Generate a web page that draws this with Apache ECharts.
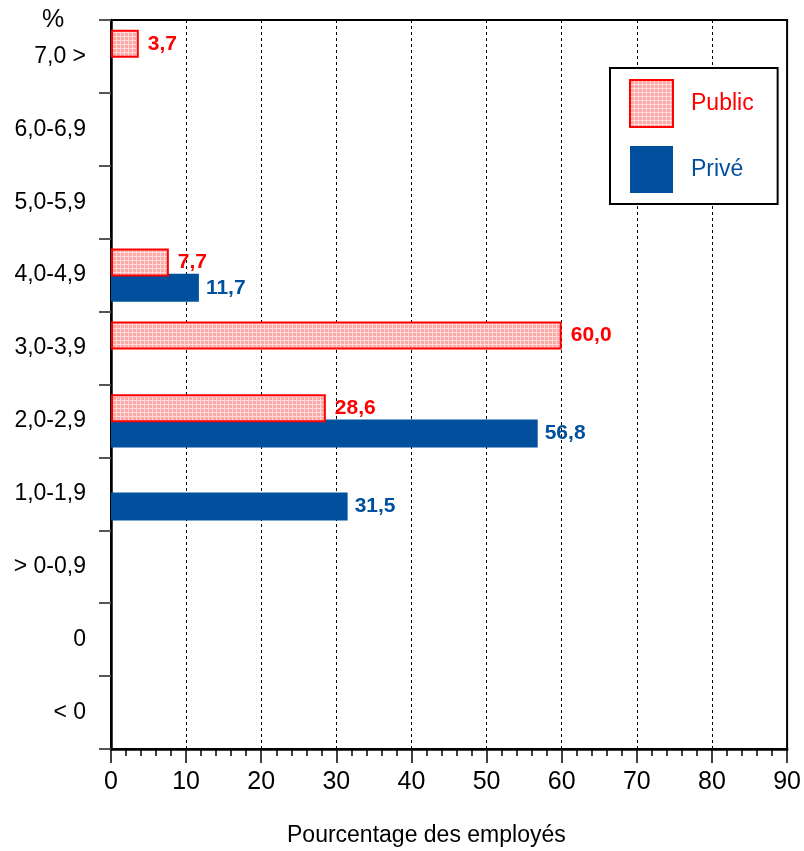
<!DOCTYPE html>
<html>
<head>
<meta charset="utf-8">
<script src="https://cdn.jsdelivr.net/npm/echarts@6/dist/echarts.min.js"></script>
<style>html,body{margin:0;padding:0;background:#fff}#c{width:804px;height:851px}</style>
</head>
<body>
<div id="c"></div>
<script>
const categories = ['< 0', '0', '> 0-0,9', '1,0-1,9', '2,0-2,9', '3,0-3,9', '4,0-4,9', '5,0-5,9', '6,0-6,9', '7,0 >'];
const publicValues = [null, null, null, null, 28.6, 60.0, 7.7, null, null, 3.7];
const priveValues = [null, null, null, 31.5, 56.8, null, 11.7, null, null, null];
const xTicks = [0, 10, 20, 30, 40, 50, 60, 70, 80, 90];

const RED = '#ff0000';
const BLUE = '#00509e';
const FONT = 'Liberation Sans, Arial, sans-serif';

function makePattern() {
  const c = document.createElement('canvas');
  c.width = 4; c.height = 4;
  const g = c.getContext('2d');
  g.fillStyle = '#ffa8a8';
  g.fillRect(0, 0, 4, 4);
  g.fillStyle = '#ffdada';
  g.fillRect(0, 0, 4, 1);
  g.fillRect(0, 0, 1, 4);
  return c;
}
const pattern = { image: makePattern(), repeat: 'repeat' };

function fmt(p) { return p.value == null ? '' : Number(p.value).toFixed(1).replace('.', ','); }

const chart = echarts.init(document.getElementById('c'), null, { renderer: 'canvas' });
chart.setOption({
  animation: false,
  backgroundColor: '#fff',
  grid: {
    left: 111, right: 13, top: 20, bottom: 102,
    show: true, borderColor: '#000', borderWidth: 2, backgroundColor: 'transparent'
  },
  legend: {
    orient: 'vertical',
    left: 610, top: 68,
    padding: [11, 24, 11, 19],
    itemWidth: 43, itemHeight: 47, itemGap: 18,
    backgroundColor: '#fff',
    borderColor: '#000', borderWidth: 2,
    icon: 'rect',
    textStyle: { fontSize: 23, fontFamily: FONT, padding: [0, 0, 0, 13] },
    data: [
      { name: 'Public', textStyle: { color: RED } },
      { name: 'Privé', textStyle: { color: BLUE } }
    ]
  },
  xAxis: {
    type: 'value',
    min: xTicks[0], max: xTicks[xTicks.length - 1], interval: 10,
    axisLine: { show: true, onZero: false, lineStyle: { color: '#000', width: 2.5 } },
    axisTick: { show: true, length: 14, lineStyle: { color: '#000', width: 1.5 } },
    minorTick: { show: true, splitNumber: 5, length: 7, lineStyle: { color: '#000', width: 1.5 } },
    splitLine: { show: true, lineStyle: { color: '#000', width: 1, type: [3, 3] } },
    axisLabel: { margin: 21, fontSize: 25, color: '#000', fontFamily: FONT }
  },
  yAxis: {
    type: 'category',
    data: categories,
    axisLine: { show: true, lineStyle: { color: '#000', width: 2.5 } },
    axisTick: { show: true, length: 12, lineStyle: { color: '#555', width: 2 } },
    axisLabel: { margin: 25, fontSize: 23, color: '#000', fontFamily: FONT }
  },
  graphic: [
    { type: 'text', left: 42, top: 8, style: { text: '%', fill: '#000', font: '25px Liberation Sans, Arial, sans-serif' } },
    { type: 'text', left: 287, top: 824, style: { text: 'Pourcentage des employés', fill: '#000', font: '23px Liberation Sans, Arial, sans-serif' } }
  ],
  series: [
    {
      name: 'Public', type: 'bar', data: publicValues, z: 3,
      barWidth: 28, barGap: '-10%',
      itemStyle: { color: pattern, borderColor: RED, borderWidth: 2 },
      label: {
        show: true, position: 'right', distance: 9, formatter: fmt,
        color: RED, fontWeight: 'bold', fontSize: 21, fontFamily: FONT
      }
    },
    {
      name: 'Privé', type: 'bar', data: priveValues, z: 2,
      barWidth: 28, barGap: '-10%',
      itemStyle: { color: BLUE },
      label: {
        show: true, position: 'right', distance: 7, formatter: fmt,
        color: BLUE, fontWeight: 'bold', fontSize: 21, fontFamily: FONT
      }
    }
  ]
});
</script>
</body>
</html>
